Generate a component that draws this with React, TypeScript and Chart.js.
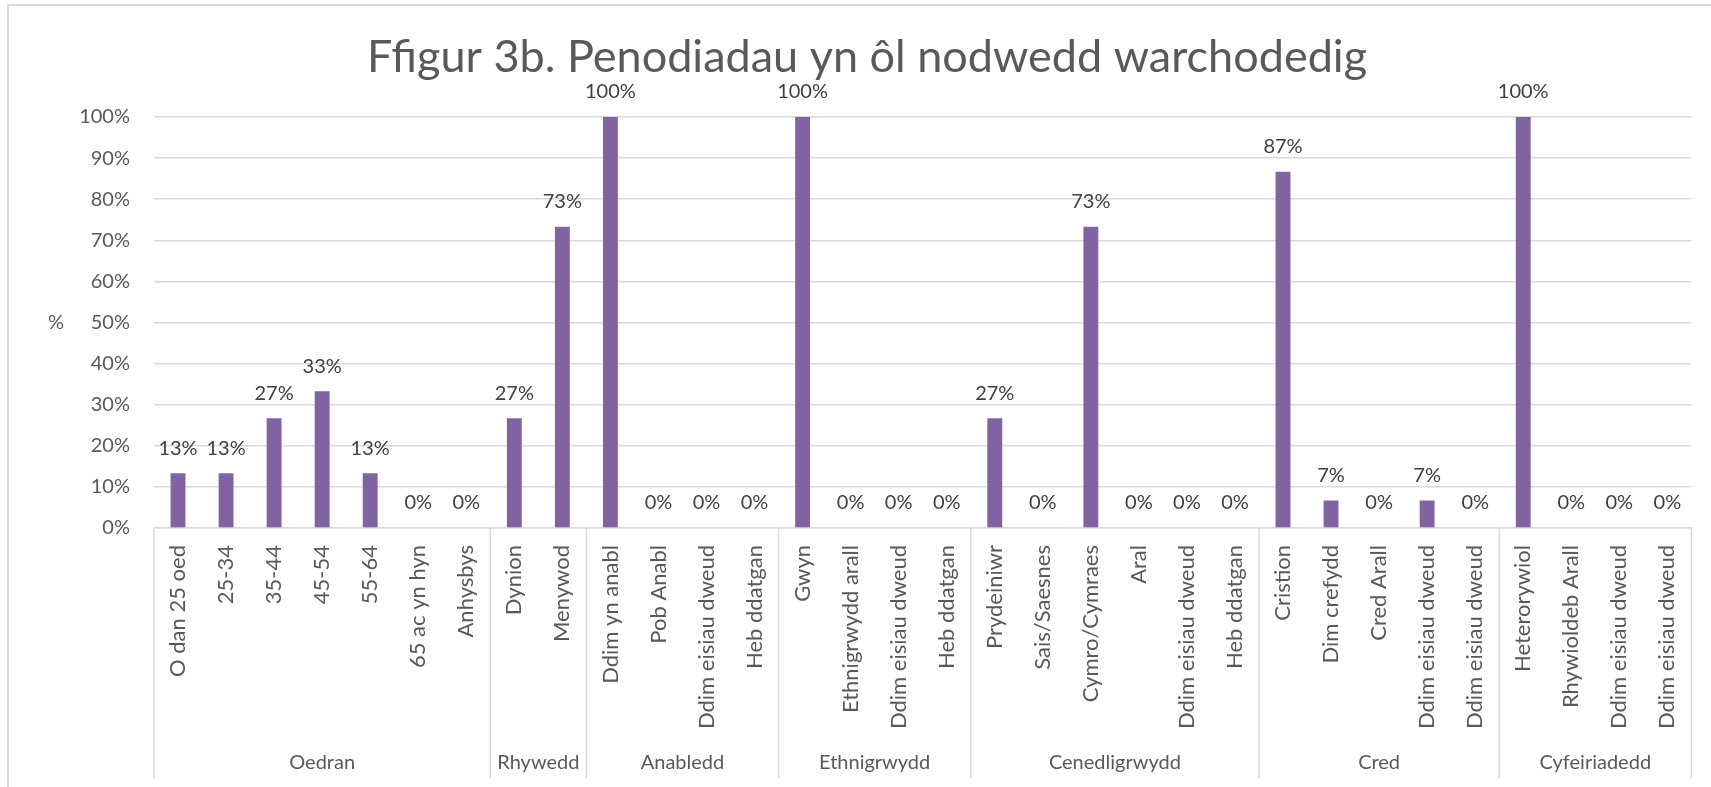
import { useEffect, useRef } from "react";
import { Chart, registerables } from "chart.js";

Chart.register(...registerables);

const titleText = "Ffigur 3b. Penodiadau yn ôl nodwedd warchodedig";
const yAxisTitle = "%";

const groups = ["Oedran", "Rhywedd", "Anabledd", "Ethnigrwydd", "Cenedligrwydd", "Cred", "Cyfeiriadedd"];
const groupSizes = [7, 2, 4, 4, 6, 5, 4];

const categories = [
  "O dan 25 oed", "25-34", "35-44", "45-54", "55-64", "65 ac yn hyn", "Anhysbys",
  "Dynion", "Menywod",
  "Ddim yn anabl", "Pob Anabl", "Ddim eisiau dweud", "Heb ddatgan",
  "Gwyn", "Ethnigrwydd arall", "Ddim eisiau dweud", "Heb ddatgan",
  "Prydeiniwr", "Sais/Saesnes", "Cymro/Cymraes", "Aral", "Ddim eisiau dweud", "Heb ddatgan",
  "Cristion", "Dim crefydd", "Cred Arall", "Ddim eisiau dweud", "Ddim eisiau dweud",
  "Heterorywiol", "Rhywioldeb Arall", "Ddim eisiau dweud", "Ddim eisiau dweud",
];

const values = [
  13.3, 13.3, 26.7, 33.3, 13.3, 0, 0,
  26.7, 73.3,
  100, 0, 0, 0,
  100, 0, 0, 0,
  26.7, 0, 73.3, 0, 0, 0,
  86.7, 6.7, 0, 6.7, 0,
  100, 0, 0, 0,
];

const yMin = 0;
const yMax = 100;
const yStep = 10;

const FONT = "Lato, 'Noto Sans', sans-serif";
const TEXT = "#595959";
const LABEL = "#404040";
const GRID = "#d9d9d9";
const BAR = "#8064a2";
const TICK_SIZE = 20;
const CAT_SIZE = 22;
const TITLE_SIZE = 45;

const decorPlugin = {
  id: "decor",
  beforeDraw(chart: any) {
    const ctx = chart.ctx;
    ctx.save();
    ctx.fillStyle = "#ffffff";
    ctx.fillRect(0, 0, chart.width, chart.height);
    ctx.strokeStyle = GRID;
    ctx.lineWidth = 2;
    ctx.strokeRect(8, 5, chart.width + 20, chart.height + 20);
    ctx.restore();
  },
  afterDatasetsDraw(chart: any) {
    const ctx = chart.ctx;
    const meta = chart.getDatasetMeta(0);
    ctx.save();
    ctx.font = `${TICK_SIZE}px ${FONT}`;
    ctx.fillStyle = LABEL;
    ctx.textAlign = "center";
    ctx.textBaseline = "middle";
    meta.data.forEach((bar: any, i: number) => {
      ctx.fillText(`${Math.round(values[i])}%`, bar.x, bar.y - 25);
    });
    ctx.restore();
  },
  afterDraw(chart: any) {
    const ctx = chart.ctx;
    const xs = chart.scales.x;
    const area = chart.chartArea;
    const half = (xs.getPixelForValue(1) - xs.getPixelForValue(0)) / 2;
    const top = area.bottom;
    const bottom = 778;
    ctx.save();
    // title
    ctx.font = `${TITLE_SIZE}px ${FONT}`;
    ctx.fillStyle = TEXT;
    ctx.textAlign = "center";
    ctx.textBaseline = "middle";
    ctx.fillText(titleText, 867, 57);

    ctx.strokeStyle = GRID;
    ctx.lineWidth = 1.5;
    ctx.font = `${TICK_SIZE}px ${FONT}`;
    let start = 0;
    const firstPx = xs.getPixelForValue(0) - half;
    ctx.beginPath();
    ctx.moveTo(firstPx, top);
    ctx.lineTo(firstPx, bottom);
    ctx.stroke();
    groups.forEach((g, gi) => {
      const end = start + groupSizes[gi];
      const left = xs.getPixelForValue(start) - half;
      const right = xs.getPixelForValue(end - 1) + half;
      ctx.beginPath();
      ctx.moveTo(right, top);
      ctx.lineTo(right, bottom);
      ctx.stroke();
      ctx.fillText(g, (left + right) / 2, 763);
      start = end;
    });
    // y axis title
    ctx.fillText(yAxisTitle, 56, (area.top + area.bottom) / 2);
    ctx.restore();
  },
};

export default function App() {
  const ref = useRef<HTMLCanvasElement>(null);
  useEffect(() => {
    document.body.style.margin = "0";
    const canvas = ref.current!;
    const chart = new Chart(canvas, {
      type: "bar",
      data: {
        labels: categories,
        datasets: [
          {
            data: values,
            backgroundColor: BAR,
            borderWidth: 0,
            categoryPercentage: 1,
            barPercentage: 0.31,
          },
        ],
      },
      options: {
        animation: false,
        responsive: false,
        devicePixelRatio: 1,
        layout: { padding: { left: 0, right: 15, top: 117, bottom: 0 } },
        plugins: {
          legend: { display: false },
          tooltip: { enabled: false },
          title: { display: false },
        },
        scales: {
          x: {
            grid: { display: false, drawTicks: false },
            border: { display: true, color: GRID, width: 1.5 },
            ticks: {
              autoSkip: false,
              minRotation: 90,
              maxRotation: 90,
              padding: 17,
              color: TEXT,
              font: { family: FONT, size: CAT_SIZE },
            },
            afterFit: (s: any) => {
              s.height = 259;
            },
          },
          y: {
            min: yMin,
            max: yMax,
            grid: { color: GRID, lineWidth: 1.5, drawTicks: false },
            border: { display: false },
            ticks: {
              stepSize: yStep,
              padding: 24,
              color: TEXT,
              font: { family: FONT, size: TICK_SIZE },
              callback: (v: any) => `${v}%`,
            },
            afterFit: (s: any) => {
              s.width = 154;
            },
          },
        },
      },
      plugins: [decorPlugin],
    });
    return () => chart.destroy();
  }, []);
  return <canvas ref={ref} width={1711} height={787} style={{ display: "block" }} />;
}
